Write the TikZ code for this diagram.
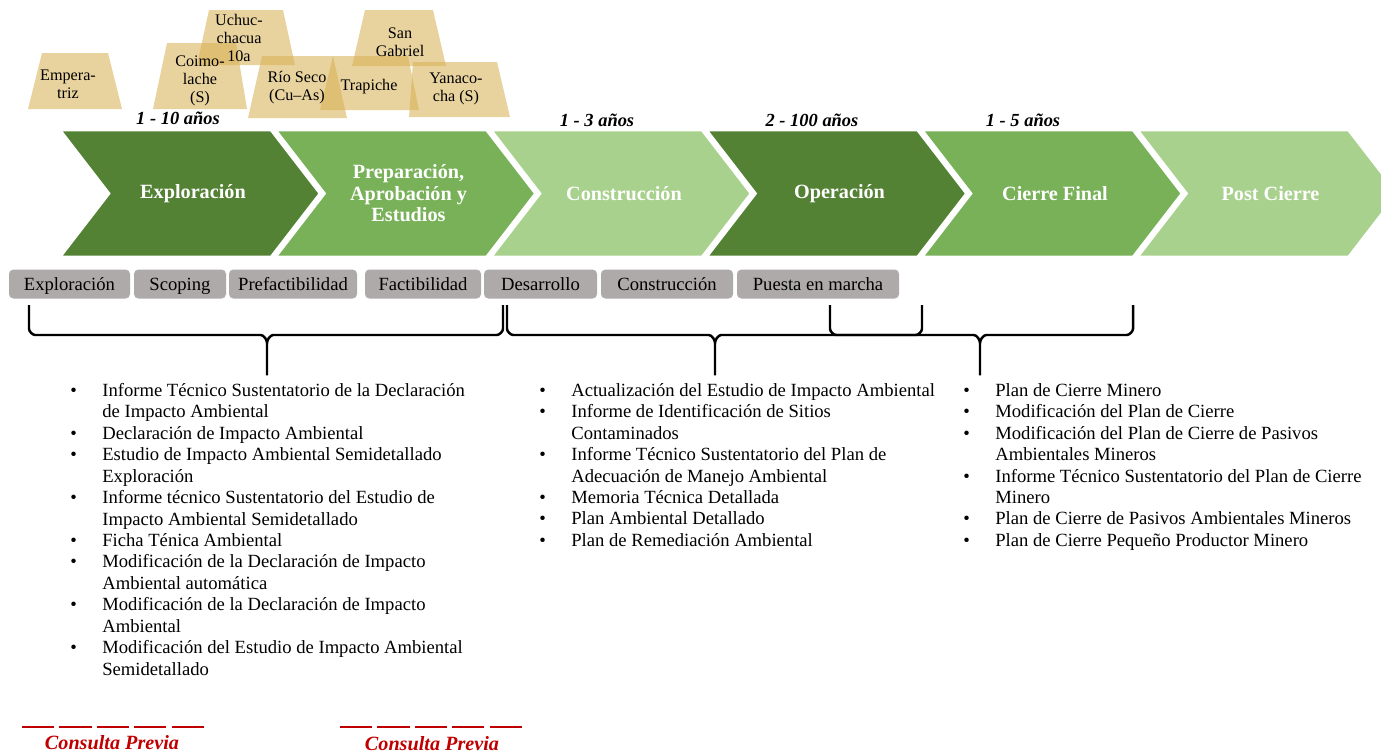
\documentclass[tikz,border=0pt]{standalone}
\usepackage{fontspec}
\setmainfont{Liberation Serif}
\usetikzlibrary{positioning}

\definecolor{dkgreen}{HTML}{548235}
\definecolor{mdgreen}{HTML}{78B158}
\definecolor{ltgreen}{HTML}{A9D18E}
\definecolor{boxgray}{HTML}{AEAAAA}
\definecolor{minetan}{RGB}{214,175,80}
\definecolor{cpred}{HTML}{C00000}

\newcommand\lbul{\makebox[0.64cm][l]{\textbullet}}
\newcommand\lind{\hspace*{0.64cm}}
% brace: left end, tip, right end
\newcommand\phasebrace[4]{%
  \draw[brace] (#1,#4) -- (#1,327) to[out=-90,in=180] (#1+8,335) -- (#2-8,335)
    to[out=0,in=90] (#2,345) -- (#2,377) -- (#2,345) to[out=90,in=180] (#2+8,335)
    -- (#3-8,335) to[out=0,in=-90] (#3,327) -- (#3,#4);}

\tikzset{
  mine/.style={fill=minetan, fill opacity=0.55},
  minetext/.style={align=center, font=\fontsize{9.2}{10.2}\selectfont, inner sep=0pt},
  chevtext/.style={text=white, align=center, font=\fontsize{11.5}{12.2}\selectfont\bfseries},
  years/.style={font=\fontsize{10.5}{12}\selectfont\bfseries\itshape},
  stagebox/.style={fill=boxgray, rounded corners=2.5pt, minimum height=0.58cm, inner sep=0pt,
    text height=9pt, text depth=1.2pt, font=\fontsize{10.6}{12}\selectfont},
  brace/.style={line width=1.4pt, rounded corners=1pt},
  doclist/.style={align=left, anchor=north west, inner sep=0pt, font=\fontsize{10.6}{12.2}\selectfont},
  cpline/.style={cpred, line width=1.6pt, dash pattern=on 18.3pt off 3pt},
  cptext/.style={text=cpred, font=\fontsize{11.5}{12}\selectfont\bfseries\itshape}
}

\begin{document}
\begin{tikzpicture}[x=0.02cm,y=-0.02cm]
\useasboundingbox (0,0) rectangle (1381,755);

% mines
\fill[mine] (42,53) -- (108,53) -- (122,109) -- (28,109) -- cycle;
\fill[mine] (167,43) -- (236,43) -- (247,109) -- (153,109) -- cycle;
\fill[mine] (209,10) -- (283,10) -- (295,65) -- (197,65) -- cycle;
\fill[mine] (262,56) -- (333,56) -- (347,118) -- (248,118) -- cycle;
\fill[mine] (365,10) -- (433,10) -- (446,66) -- (352,66) -- cycle;
\fill[mine] (333,56) -- (408,56) -- (419,110) -- (320,110) -- cycle;
\fill[mine] (413,62) -- (497,62) -- (510,117) -- (409,117) -- cycle;
\node[minetext] (emp) at (68,84) {Empera-\\triz};
\node[minetext] (coi) at (200,81) {Coimo-\\lache\\(S)};
\node[minetext] (uch) at (239,38) {Uchuc-\\chacua\\10a};
\node[minetext] (rio) at (297,88) {Río Seco\\(Cu--As)};
\node[minetext] (sgb) at (400,42) {San\\Gabriel};
\node[minetext] (tra) at (369,87) {Trapiche};
\node[minetext] (yan) at (456,89) {Yanaco-\\cha (S)};

% phases
\foreach \i/\c/\t in {0/dkgreen/Exploración, 1/mdgreen/{Preparación,\\Aprobación y\\Estudios},
  2/ltgreen/Construcción, 3/dkgreen/Operación, 4/mdgreen/Cierre Final, 5/ltgreen/Post Cierre}{
  \pgfmathsetmacro\x{60+215.5*\i}
  \filldraw[fill=\c, draw=white, line width=1.5pt] (\x,130) -- ++(211,0) -- ++(49,63.5)
    -- ++(-49,63.5) -- ++(-211,0) -- ++(49,-63.5) -- cycle;
  \node[chevtext] (ph\i) at (\x+133,193.5) {\t};
}
\node[years] (yr1) at (178,118) {1 - 10 años};
\node[years] (yr2) at (597,120) {1 - 3 años};
\node[years] (yr3) at (812,120) {2 - 100 años};
\node[years] (yr4) at (1023,120) {1 - 5 años};

% stages
\foreach \n/\x/\w/\t in {s1/69.5/121/Exploración, s2/180/92/Scoping, s3/293/128/Prefactibilidad,
  s4/423/116/Factibilidad, s5/540.5/113/Desarrollo, s6/667/132/Construcción, s7/818/162/Puesta en marcha}{
  \node[stagebox, minimum width=\w*0.02cm] (\n) at (\x,284) {\t};
}

% braces
\phasebrace{29}{267}{503}{305}
\phasebrace{507}{715}{922}{305}
\phasebrace{830}{980}{1133}{305}

% documents
\node[doclist] (docs1) at (70,383) {\lbul Informe Técnico Sustentatorio de la Declaración\\
  \lind de Impacto Ambiental\\
  \lbul Declaración de Impacto Ambiental\\
  \lbul Estudio de Impacto Ambiental Semidetallado\\
  \lind Exploración\\
  \lbul Informe técnico Sustentatorio del Estudio de\\
  \lind Impacto Ambiental Semidetallado\\
  \lbul Ficha Ténica Ambiental\\
  \lbul Modificación de la Declaración de Impacto\\
  \lind Ambiental automática\\
  \lbul Modificación de la Declaración de Impacto\\
  \lind Ambiental\\
  \lbul Modificación del Estudio de Impacto Ambiental\\
  \lind Semidetallado};
\node[doclist] (docs2) at (539,383) {\lbul Actualización del Estudio de Impacto Ambiental\\
  \lbul Informe de Identificación de Sitios\\
  \lind Contaminados\\
  \lbul Informe Técnico Sustentatorio del Plan de\\
  \lind Adecuación de Manejo Ambiental\\
  \lbul Memoria Técnica Detallada\\
  \lbul Plan Ambiental Detallado\\
  \lbul Plan de Remediación Ambiental};
\node[doclist] (docs3) at (963,383) {\lbul Plan de Cierre Minero\\
  \lbul Modificación del Plan de Cierre\\
  \lbul Modificación del Plan de Cierre de Pasivos\\
  \lind Ambientales Mineros\\
  \lbul Informe Técnico Sustentatorio del Plan de Cierre\\
  \lind Minero\\
  \lbul Plan de Cierre de Pasivos Ambientales Mineros\\
  \lbul Plan de Cierre Pequeño Productor Minero};

% consulta previa
\coordinate (cp1a) at (22,727);
\coordinate (cp1b) at (205,727);
\coordinate (cp2a) at (340,727);
\coordinate (cp2b) at (525,727);
\draw[cpline] (cp1a) -- (cp1b);
\draw[cpline] (cp2a) -- (cp2b);
\node[cptext] (cp1) at (112,743) {Consulta Previa};
\node[cptext] (cp2) at (432,744) {Consulta Previa};
\end{tikzpicture}
\end{document}
